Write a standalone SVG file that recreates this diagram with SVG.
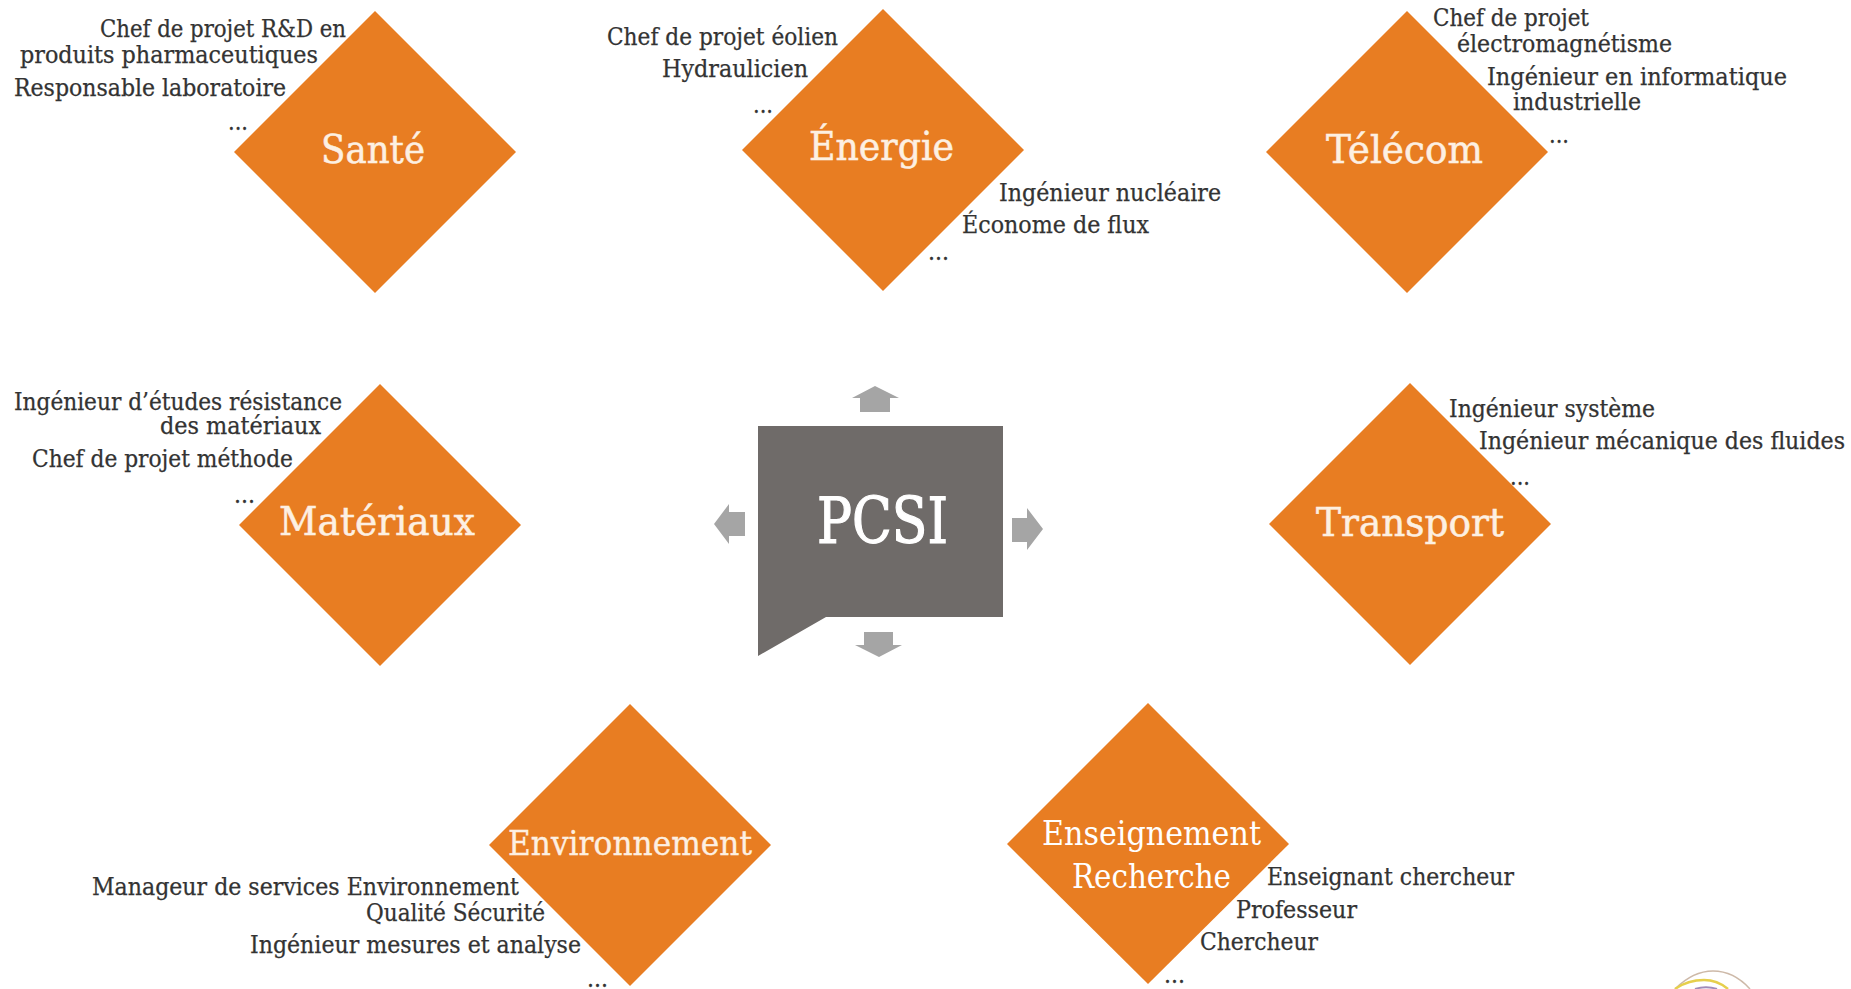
<svg xmlns="http://www.w3.org/2000/svg" width="1851" height="989" viewBox="0 0 1851 989">
<style>
text{font-family:"DejaVu Serif Condensed","DejaVu Serif","Liberation Serif",serif}
.d{fill:#e87d22}
.t{font-size:24.5px;fill:#333;stroke:#333;stroke-width:.25px}
.l{font-size:40px;fill:#fdf0e2;stroke:#fdf0e2;stroke-width:.5px}
.m{font-size:33px;fill:#fdf0e2;stroke:#fdf0e2;stroke-width:.3px}
.w{font-size:33px;fill:#fff}
.a{fill:#a5a5a5}
</style>
<rect width="1851" height="989" fill="#fff"/>
<g id="connectors">
<polygon class="a" points="875,386 899,398 890,398 890,412 860,412 860,398 852,398"/>
<polygon class="a" points="714,524 729,504 729,512 745,512 745,536 729,536 729,544"/>
<polygon class="a" points="1043,529 1027,508 1027,518 1012,518 1012,542 1027,542 1027,550"/>
<polygon class="a" points="879,657 855,645 864,645 864,632 893,632 893,645 902,645"/>
</g>
<g id="pcsi">
<polygon points="758,426 1003,426 1003,617 826,617 758,656" fill="#6f6b69"/>
<text x="817" y="543" font-size="64" fill="#fff" stroke="#fff" stroke-width="1.2" textLength="131" lengthAdjust="spacingAndGlyphs">PCSI</text>
</g>
<g id="sante">
<polygon class="d" points="375,11 516,152 375,293 234,152"/>
<text class="l" x="321" y="163" textLength="104" lengthAdjust="spacingAndGlyphs">Santé</text>
<text class="t" x="100" y="37" textLength="246" lengthAdjust="spacingAndGlyphs">Chef de projet R&amp;D en</text>
<text class="t" x="20" y="63" textLength="298" lengthAdjust="spacingAndGlyphs">produits pharmaceutiques</text>
<text class="t" x="14" y="96" textLength="272" lengthAdjust="spacingAndGlyphs">Responsable laboratoire</text>
<text class="t" x="228" y="130" textLength="20" lengthAdjust="spacingAndGlyphs">...</text>
</g>
<g id="energie">
<polygon class="d" points="883,9 1024,150 883,291 742,150"/>
<text class="l" x="809" y="160" textLength="145" lengthAdjust="spacingAndGlyphs">Énergie</text>
<text class="t" x="607" y="45" textLength="231" lengthAdjust="spacingAndGlyphs">Chef de projet éolien</text>
<text class="t" x="662" y="77" textLength="146" lengthAdjust="spacingAndGlyphs">Hydraulicien</text>
<text class="t" x="753" y="113" textLength="20" lengthAdjust="spacingAndGlyphs">...</text>
<text class="t" x="999" y="201" textLength="222" lengthAdjust="spacingAndGlyphs">Ingénieur nucléaire</text>
<text class="t" x="962" y="233" textLength="187" lengthAdjust="spacingAndGlyphs">Économe de flux</text>
<text class="t" x="928" y="260" textLength="21" lengthAdjust="spacingAndGlyphs">...</text>
</g>
<g id="telecom">
<polygon class="d" points="1407,11 1548,152 1407,293 1266,152"/>
<text class="l" x="1326" y="163" textLength="157" lengthAdjust="spacingAndGlyphs">Télécom</text>
<text class="t" x="1433" y="26" textLength="156" lengthAdjust="spacingAndGlyphs">Chef de projet</text>
<text class="t" x="1457" y="52" textLength="215" lengthAdjust="spacingAndGlyphs">électromagnétisme</text>
<text class="t" x="1487" y="85" textLength="300" lengthAdjust="spacingAndGlyphs">Ingénieur en informatique</text>
<text class="t" x="1513" y="110" textLength="128" lengthAdjust="spacingAndGlyphs">industrielle</text>
<text class="t" x="1549" y="143" textLength="20" lengthAdjust="spacingAndGlyphs">...</text>
</g>
<g id="materiaux">
<polygon class="d" points="380,384 521,525 380,666 239,525"/>
<text class="l" x="279" y="535" textLength="196" lengthAdjust="spacingAndGlyphs">Matériaux</text>
<text class="t" x="14" y="410" textLength="328" lengthAdjust="spacingAndGlyphs">Ingénieur d’études résistance</text>
<text class="t" x="160" y="434" textLength="161" lengthAdjust="spacingAndGlyphs">des matériaux</text>
<text class="t" x="32" y="467" textLength="261" lengthAdjust="spacingAndGlyphs">Chef de projet méthode</text>
<text class="t" x="234" y="503" textLength="21" lengthAdjust="spacingAndGlyphs">...</text>
</g>
<g id="transport">
<polygon class="d" points="1410,383 1551,524 1410,665 1269,524"/>
<text class="l" x="1316" y="536" textLength="188" lengthAdjust="spacingAndGlyphs">Transport</text>
<text class="t" x="1449" y="417" textLength="206" lengthAdjust="spacingAndGlyphs">Ingénieur système</text>
<text class="t" x="1479" y="449" textLength="366" lengthAdjust="spacingAndGlyphs">Ingénieur mécanique des fluides</text>
<text class="t" x="1510" y="485" textLength="20" lengthAdjust="spacingAndGlyphs">...</text>
</g>
<g id="environnement">
<polygon class="d" points="630,704 771,845 630,986 489,845"/>
<text class="m" x="508" y="855" textLength="244" lengthAdjust="spacingAndGlyphs">Environnement</text>
<text class="t" x="92" y="895" textLength="427" lengthAdjust="spacingAndGlyphs">Manageur de services Environnement</text>
<text class="t" x="366" y="921" textLength="179" lengthAdjust="spacingAndGlyphs">Qualité Sécurité</text>
<text class="t" x="250" y="953" textLength="331" lengthAdjust="spacingAndGlyphs">Ingénieur mesures et analyse</text>
<text class="t" x="587" y="987" textLength="21" lengthAdjust="spacingAndGlyphs">...</text>
</g>
<g id="enseignement">
<polygon class="d" points="1148,703 1289,844 1148,984 1007,844"/>
<text class="w" x="1042" y="845" textLength="219" lengthAdjust="spacingAndGlyphs">Enseignement</text>
<text class="w" x="1072" y="888" textLength="159" lengthAdjust="spacingAndGlyphs">Recherche</text>
<text class="t" x="1267" y="885" textLength="247" lengthAdjust="spacingAndGlyphs">Enseignant chercheur</text>
<text class="t" x="1236" y="918" textLength="121" lengthAdjust="spacingAndGlyphs">Professeur</text>
<text class="t" x="1200" y="950" textLength="118" lengthAdjust="spacingAndGlyphs">Chercheur</text>
<text class="t" x="1164" y="983" textLength="21" lengthAdjust="spacingAndGlyphs">...</text>
</g>
<g id="logo" fill="none">
<path d="M1675,989C1685,979 1698,971 1713,971C1728,971 1741,979 1750,989" stroke="#cdb9a8" stroke-width="1.5"/>
<path d="M1675,989C1685,982 1696,980 1704,980C1714,980 1722,984 1728,989" stroke="#e6cf4c" stroke-width="2.5"/>
<path d="M1695,989C1701,987 1708,986 1717,989" stroke="#a08bb8" stroke-width="2"/>
</g>
</svg>
